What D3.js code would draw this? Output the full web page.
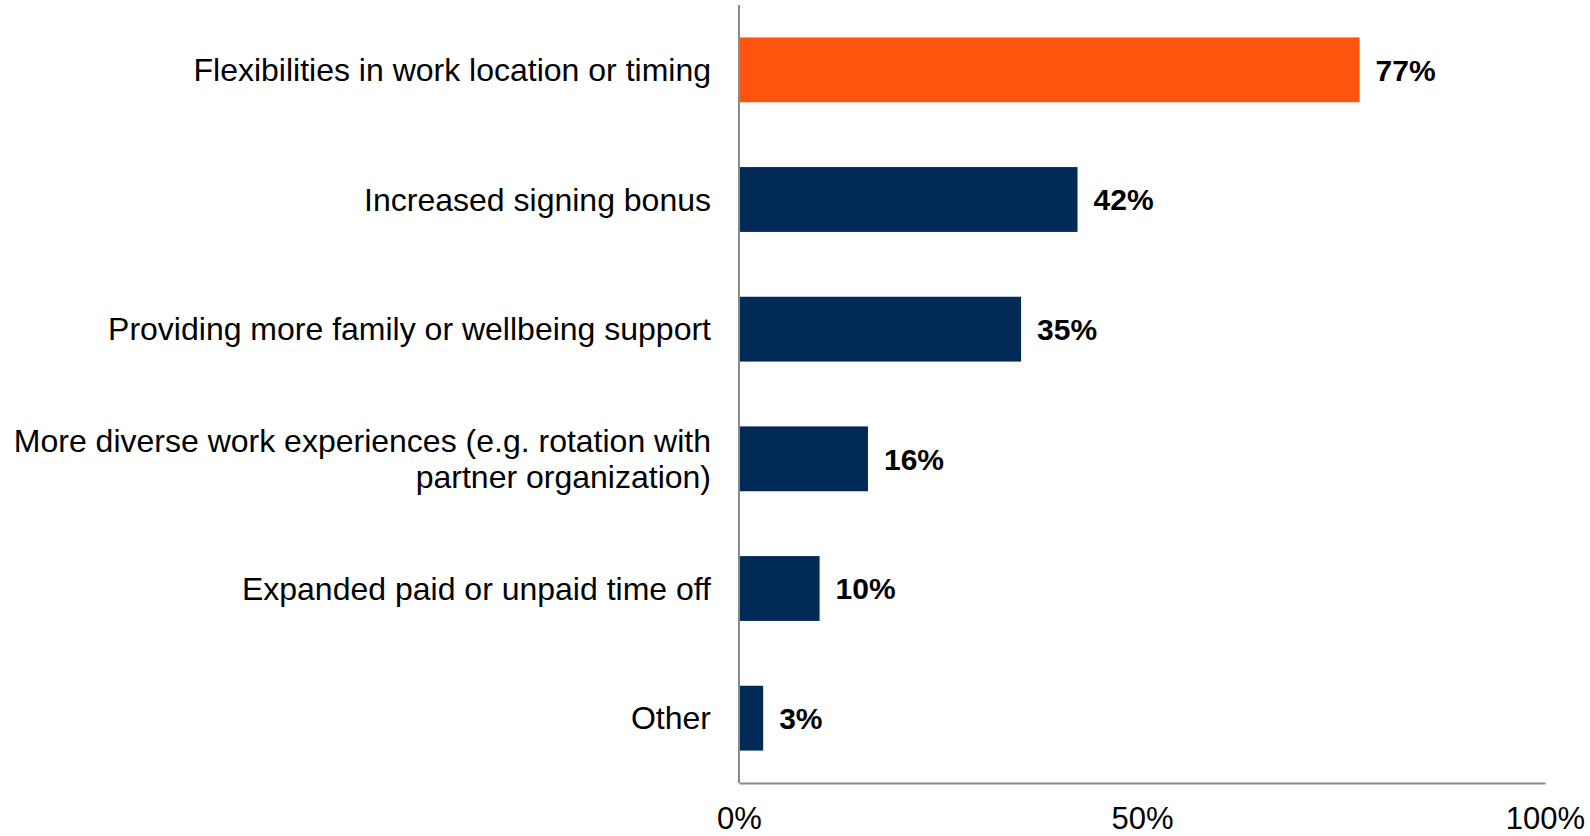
<!DOCTYPE html>
<html>
<head>
<meta charset="utf-8">
<script src="https://cdn.jsdelivr.net/npm/d3@7"></script>
<style>
  html, body { margin: 0; padding: 0; background: #ffffff; }
  svg { display: block; font-family: "Liberation Sans", Arial, Helvetica, sans-serif; }
</style>
</head>
<body>
<svg id="chart" width="1590" height="836"></svg>
<script>
// Survey responses: share of respondents selecting each option
const categories = [
  ["Flexibilities in work location or timing"],
  ["Increased signing bonus"],
  ["Providing more family or wellbeing support"],
  ["More diverse work experiences (e.g. rotation with", "partner organization)"],
  ["Expanded paid or unpaid time off"],
  ["Other"]
];
const values = [77, 42, 35, 16, 10, 3];
const highlighted = [true, false, false, false, false, false];
const tickValues = [0, 50, 100];
const tickLabels = ["0%", "50%", "100%"];

const svg = d3.select("#chart");
const margin = { top: 5, left: 739, right: 45, bottom: 53 };
const W = 1590, H = 836;

const x = d3.scaleLinear().domain([0, 100]).range([margin.left, W - margin.right]);
const y = d3.scaleBand()
  .domain(d3.range(categories.length))
  .range([margin.top, H - margin.bottom])
  .paddingInner(0.5)
  .paddingOuter(0.25);

// Bars
svg.append("g").selectAll("rect")
  .data(values)
  .join("rect")
  .attr("x", x(0))
  .attr("y", (d, i) => y(i))
  .attr("width", d => x(d) - x(0))
  .attr("height", y.bandwidth())
  .attr("fill", (d, i) => highlighted[i] ? "#ff540e" : "#012a56");

// Value labels
svg.append("g").selectAll("text")
  .data(values)
  .join("text")
  .attr("x", d => x(d) + 16)
  .attr("y", (d, i) => y(i) + y.bandwidth() / 2)
  .attr("dy", "0.36em")
  .attr("font-size", 30)
  .attr("font-weight", "bold")
  .attr("fill", "#000")
  .text(d => d + "%");

// Category labels (right aligned, may span two lines)
const catG = svg.append("g");
categories.forEach((lines, i) => {
  const cy = y(i) + y.bandwidth() / 2;
  const lh = 36;
  const t = catG.append("text")
    .attr("text-anchor", "end")
    .attr("font-size", 32)
    .attr("fill", "#000");
  lines.forEach((ln, j) => {
    t.append("tspan")
      .attr("x", x(0) - 28)
      .attr("y", cy + (j - (lines.length - 1) / 2) * lh)
      .attr("dy", "0.35em")
      .text(ln);
  });
});

// X axis
const xAxis = d3.axisBottom(x)
  .tickValues(tickValues)
  .tickFormat((d, i) => tickLabels[i])
  .tickSize(0)
  .tickPadding(24);
const gx = svg.append("g")
  .attr("transform", `translate(0,${H - margin.bottom})`)
  .call(xAxis);
gx.select(".domain").attr("stroke", "#868c8c").attr("stroke-width", 2);
gx.selectAll("text")
  .attr("font-size", 31)
  .attr("font-family", "'Liberation Sans', Arial, sans-serif")
  .attr("fill", "#000");

// Y axis line
svg.append("line")
  .attr("x1", x(0)).attr("x2", x(0))
  .attr("y1", margin.top).attr("y2", H - margin.bottom)
  .attr("stroke", "#868c8c")
  .attr("stroke-width", 2);
</script>
</body>
</html>
